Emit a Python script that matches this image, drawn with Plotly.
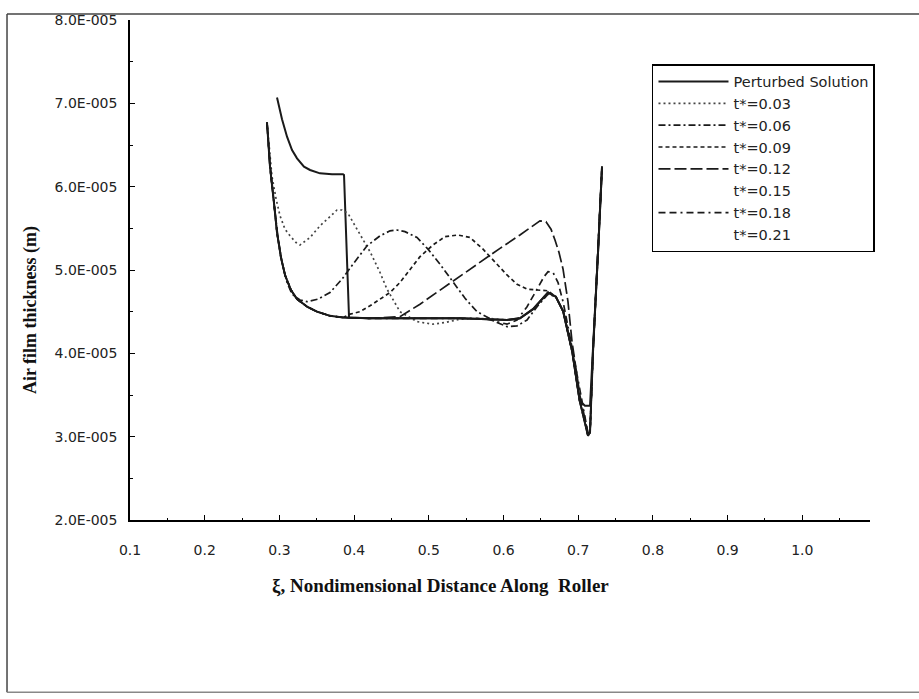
import plotly.graph_objects as go

# ---------------- data ----------------
# Steady, decaying entry region shared by the later curves (x, air film thickness in m)
entry_x = [0.2834, 0.2874, 0.2928, 0.2968, 0.3021, 0.3075, 0.3155, 0.3236, 0.3370, 0.3503, 0.3677, 0.3851]
entry_y = [6.77e-5, 6.24e-5, 5.80e-5, 5.45e-5, 5.15e-5, 4.94e-5, 4.76e-5, 4.65e-5, 4.56e-5, 4.50e-5, 4.45e-5, 4.43e-5]

perturbed_x = [0.2968, 0.3035, 0.3102, 0.3169, 0.3236, 0.3329, 0.3410, 0.3543, 0.3704, 0.3851, 0.3865, 0.3932,
               0.42, 0.46, 0.50, 0.54, 0.58, 0.6047, 0.622, 0.6395, 0.6596, 0.670, 0.680, 0.692, 0.702, 0.709,
               0.7158, 0.7198, 0.7265, 0.7319]
perturbed_y = [7.07e-5, 6.81e-5, 6.60e-5, 6.44e-5, 6.34e-5, 6.24e-5, 6.20e-5, 6.16e-5, 6.15e-5, 6.15e-5, 6.14e-5, 4.43e-5,
               4.42e-5, 4.42e-5, 4.42e-5, 4.42e-5, 4.41e-5, 4.40e-5, 4.42e-5, 4.53e-5, 4.73e-5, 4.68e-5, 4.50e-5, 4.02e-5,
               3.43e-5, 3.37e-5, 3.37e-5, 4.02e-5, 5.21e-5, 6.24e-5]

t003_x = [0.2834, 0.2874, 0.2901, 0.2954, 0.3008, 0.3075, 0.3142, 0.3222, 0.3276, 0.341, 0.3543, 0.3677, 0.3771,
          0.3838, 0.3918, 0.40, 0.4213, 0.4347, 0.444, 0.4614, 0.4842, 0.5056, 0.5217, 0.5418, 0.58, 0.6047, 0.622,
          0.6395, 0.6596, 0.670, 0.680, 0.692, 0.702, 0.7131, 0.7158, 0.7198, 0.7265, 0.7319]
t003_y = [6.77e-5, 6.40e-5, 6.12e-5, 5.86e-5, 5.65e-5, 5.49e-5, 5.41e-5, 5.33e-5, 5.30e-5, 5.39e-5, 5.53e-5, 5.64e-5,
          5.72e-5, 5.72e-5, 5.68e-5, 5.55e-5, 5.22e-5, 4.97e-5, 4.77e-5, 4.50e-5, 4.38e-5, 4.35e-5, 4.37e-5, 4.41e-5,
          4.42e-5, 4.40e-5, 4.42e-5, 4.53e-5, 4.73e-5, 4.68e-5, 4.50e-5, 4.02e-5, 3.43e-5, 3.01e-5, 3.05e-5, 4.02e-5,
          5.21e-5, 6.24e-5]

t006_x = [0.2834, 0.2874, 0.2928, 0.2981, 0.3035, 0.3102, 0.3169, 0.3276, 0.337, 0.3517, 0.3677, 0.3838, 0.3985,
          0.4173, 0.4347, 0.4481, 0.4574, 0.4681, 0.4842, 0.4989, 0.515, 0.5324, 0.5485, 0.5645, 0.5779, 0.5913,
          0.6047, 0.6181, 0.6315, 0.6449, 0.6596, 0.670, 0.680, 0.692, 0.702, 0.7131, 0.7158, 0.7198, 0.7265, 0.7319]
t006_y = [6.77e-5, 6.28e-5, 5.80e-5, 5.39e-5, 5.09e-5, 4.85e-5, 4.71e-5, 4.64e-5, 4.62e-5, 4.65e-5, 4.73e-5, 4.89e-5,
          5.07e-5, 5.29e-5, 5.41e-5, 5.47e-5, 5.48e-5, 5.46e-5, 5.39e-5, 5.25e-5, 5.07e-5, 4.85e-5, 4.66e-5, 4.50e-5,
          4.43e-5, 4.37e-5, 4.32e-5, 4.33e-5, 4.40e-5, 4.56e-5, 4.71e-5, 4.68e-5, 4.50e-5, 4.02e-5, 3.43e-5, 3.01e-5,
          3.05e-5, 4.02e-5, 5.21e-5, 6.24e-5]

t009_x = [0.3945, 0.4079, 0.4213, 0.4347, 0.4481, 0.4614, 0.4748, 0.4882, 0.5056, 0.5217, 0.5391, 0.5552, 0.5726,
          0.5886, 0.6047, 0.6181, 0.6315, 0.6449, 0.6596, 0.670, 0.680, 0.692, 0.702, 0.7131, 0.7158, 0.7198,
          0.7265, 0.7319]
t009_y = [4.47e-5, 4.50e-5, 4.57e-5, 4.65e-5, 4.73e-5, 4.85e-5, 5.01e-5, 5.16e-5, 5.30e-5, 5.40e-5, 5.42e-5, 5.39e-5,
          5.25e-5, 5.09e-5, 4.94e-5, 4.83e-5, 4.77e-5, 4.76e-5, 4.75e-5, 4.68e-5, 4.50e-5, 4.02e-5, 3.43e-5, 3.01e-5,
          3.05e-5, 4.02e-5, 5.21e-5, 6.24e-5]

t012_x = [0.42, 0.4614, 0.4882, 0.515, 0.5418, 0.5685, 0.5953, 0.622, 0.6381, 0.6488, 0.6569, 0.6636, 0.6689,
          0.6743, 0.6797, 0.6863, 0.6917, 0.7024, 0.7131, 0.7158, 0.7198, 0.7265, 0.7319]
t012_y = [4.42e-5, 4.44e-5, 4.59e-5, 4.76e-5, 4.92e-5, 5.09e-5, 5.26e-5, 5.42e-5, 5.52e-5, 5.59e-5, 5.58e-5, 5.49e-5,
          5.36e-5, 5.21e-5, 5.01e-5, 4.62e-5, 4.14e-5, 3.49e-5, 3.04e-5, 3.05e-5, 4.02e-5, 5.21e-5, 6.24e-5]

t018_x = [0.42, 0.50, 0.56, 0.5779, 0.5913, 0.6047, 0.6181, 0.6315, 0.6449, 0.6542, 0.6596, 0.6663, 0.673, 0.6797,
          0.689, 0.7024, 0.7131, 0.7158, 0.7198, 0.7265, 0.7319]
t018_y = [4.42e-5, 4.42e-5, 4.42e-5, 4.41e-5, 4.38e-5, 4.35e-5, 4.40e-5, 4.56e-5, 4.77e-5, 4.92e-5, 4.98e-5, 4.97e-5,
          4.85e-5, 4.62e-5, 4.20e-5, 3.55e-5, 3.04e-5, 3.05e-5, 4.02e-5, 5.21e-5, 6.24e-5]

t021_x = [0.42, 0.46, 0.50, 0.54, 0.58, 0.6047, 0.622, 0.6395, 0.6596, 0.670, 0.680, 0.692, 0.702, 0.7131, 0.7158,
          0.7198, 0.7265, 0.7319]
t021_y = [4.42e-5, 4.42e-5, 4.42e-5, 4.42e-5, 4.41e-5, 4.40e-5, 4.42e-5, 4.53e-5, 4.73e-5, 4.68e-5, 4.50e-5, 4.02e-5,
          3.43e-5, 3.01e-5, 3.05e-5, 4.02e-5, 5.21e-5, 6.24e-5]

x_tick_vals = [0.1, 0.2, 0.3, 0.4, 0.5, 0.6, 0.7, 0.8, 0.9, 1.0]
x_tick_text = ["0.1", "0.2", "0.3", "0.4", "0.5", "0.6", "0.7", "0.8", "0.9", "1.0"]
y_tick_vals = [2e-5, 3e-5, 4e-5, 5e-5, 6e-5, 7e-5, 8e-5]
y_tick_text = ["2.0E-005", "3.0E-005", "4.0E-005", "5.0E-005", "6.0E-005", "7.0E-005", "8.0E-005"]

# ---------------- figure ----------------
INK = "#1a1a1a"
fig = go.Figure()

def add(name, xs, ys, dash, width, color=INK, showlegend=True):
    fig.add_trace(go.Scatter(x=xs, y=ys, mode="lines", name=name, showlegend=showlegend,
                             line=dict(color=color, width=width, dash=dash)))

add("Perturbed Solution", perturbed_x, perturbed_y, "solid", 2)
add("t*=0.03", t003_x, t003_y, "2px,3px", 1.7, "#444444")
add("t*=0.06", t006_x, t006_y, "7px,3px,2px,3px", 1.7)
add("t*=0.09", entry_x + t009_x, entry_y + t009_y, "4px,3px", 1.7)
add("t*=0.12", entry_x + t012_x, entry_y + t012_y, "12px,4px", 1.7)
# t*=0.15 has no visible line in the original
fig.add_trace(go.Scatter(x=[None], y=[None], mode="lines", name="t*=0.15",
                         line=dict(color="rgba(0,0,0,0)", width=0)))
add("t*=0.18", entry_x + t018_x, entry_y + t018_y, "7px,4px,7px,4px,2px,4px", 1.7)
fig.add_trace(go.Scatter(x=[None], y=[None], mode="lines", name="t*=0.21",
                         line=dict(color="rgba(0,0,0,0)", width=0)))
add("t*=0.21", entry_x + t021_x, entry_y + t021_y, "solid", 2, showlegend=False)

tickfont = dict(family="DejaVu Sans, Liberation Sans, Arial", size=14, color="#222")

fig.update_xaxes(range=[0.1, 1.0906], showline=True, linecolor="black", linewidth=1.5,
                 showgrid=False, zeroline=False, tickmode="array", tickvals=x_tick_vals,
                 ticktext=x_tick_text, ticks="inside", ticklen=5, tickwidth=1.2, tickcolor="black",
                 tickfont=tickfont, ticklabelstandoff=16,
                 minor=dict(ticks="inside", ticklen=2.5, tickmode="linear", tick0=0.15, dtick=0.1,
                            tickcolor="black", showgrid=False))
fig.update_yaxes(range=[2e-5, 8e-5], showline=True, linecolor="black", linewidth=1.5,
                 showgrid=False, zeroline=False, tickmode="array", tickvals=y_tick_vals,
                 ticktext=y_tick_text, ticks="inside", ticklen=5, tickwidth=1.2, tickcolor="black",
                 tickfont=tickfont, ticklabelstandoff=8,
                 minor=dict(ticks="inside", ticklen=3, tickmode="linear", tick0=2.5e-5, dtick=1e-5,
                            tickcolor="black", showgrid=False))

serif = dict(family="Liberation Serif, Times New Roman, serif", size=19, color="#111")

fig.update_layout(
    width=919, height=699,
    margin=dict(l=130, r=49, t=15, b=179),
    plot_bgcolor="white", paper_bgcolor="white",
    legend=dict(x=0.7054, y=0.912, xanchor="left", yanchor="top",
                bordercolor="black", borderwidth=1.5, bgcolor="white",
                font=dict(family="DejaVu Sans, Liberation Sans, Arial", size=14.5, color="#222"),
                itemwidth=70, tracegroupgap=0, traceorder="normal"),
    annotations=[
        dict(text="<b>ξ, Nondimensional Distance Along  Roller</b>", xref="paper", yref="paper",
             x=0.42, y=-0.131, xanchor="center", yanchor="middle", showarrow=False, font=serif),
        dict(text="<b>Air film thickness (m)</b>", xref="paper", yref="paper",
             x=-0.135, y=0.42, xanchor="center", yanchor="middle", showarrow=False,
             textangle=-90, font=dict(family=serif["family"], size=18, color="#111")),
    ],
    shapes=[
        dict(type="line", xref="paper", yref="paper", x0=-0.1662, x1=-0.1662, y0=-0.3446, y1=1.0119,
             line=dict(color="#444", width=1.5)),
        dict(type="line", xref="paper", yref="paper", x0=-0.1662, x1=1.08, y0=1.0119, y1=1.0119,
             line=dict(color="#444", width=1.5)),
        dict(type="line", xref="paper", yref="paper", x0=-0.1662, x1=1.08, y0=-0.3446, y1=-0.3446,
             line=dict(color="#888", width=1.5)),
    ],
)

fig.write_html("out.html")
